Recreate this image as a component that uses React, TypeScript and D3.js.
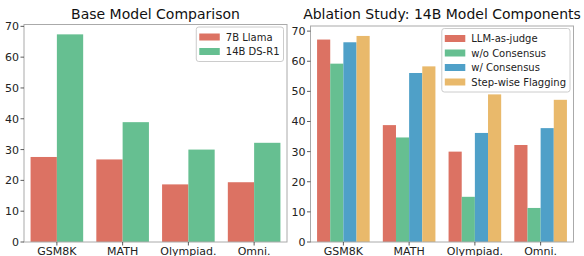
import React, { useEffect, useRef } from "react";
import * as d3 from "d3";

const categories = ["GSM8K", "MATH", "Olympiad.", "Omni."];

const baseSeries = ["7B Llama", "14B DS-R1"];
const baseValues = [
  [27.6, 26.8, 18.7, 19.4],
  [67.4, 38.9, 30.0, 32.2],
];

const ablationSeries = ["LLM-as-judge", "w/o Consensus", "w/ Consensus", "Step-wise Flagging"];
const ablationValues = [
  [67.2, 38.8, 30.0, 32.2],
  [59.2, 34.7, 15.0, 11.3],
  [66.3, 56.1, 36.2, 37.8],
  [68.4, 58.3, 49.0, 47.2],
];

const yTicks = [0, 10, 20, 30, 40, 50, 60, 70];
const colors = ["#dc7263", "#66bf91", "#4fa0c8", "#e9b96b"];

const FONT = "DejaVu Sans";

export default function App() {
  const svgRef = useRef<SVGSVGElement>(null);

  useEffect(() => {
    const svg = d3.select(svgRef.current);
    svg.selectAll("*").remove();

    const panels = [
      { title: "Base Model Comparison", series: baseSeries, values: baseValues, left: 24, right: 287, top: 24.5, ymax: 70.6 },
      { title: "Ablation Study: 14B Model Components", series: ablationSeries, values: ablationValues, left: 310.5, right: 573.5, top: 26, ymax: 71.7 },
    ];
    const bottom = 242;

    panels.forEach((p) => {
      const g = svg.append("g");

      const x = d3.scaleBand().domain(categories).range([p.left, p.right]).paddingInner(0.2).paddingOuter(0.1);
      const xs = d3.scaleBand().domain(p.series).range([0, x.bandwidth()]);
      const y = d3.scaleLinear().domain([0, p.ymax]).range([bottom, p.top]);

      // bars
      p.series.forEach((s, si) => {
        g.selectAll(null)
          .data(p.values[si])
          .enter()
          .append("rect")
          .attr("x", (d, i) => x(categories[i])! + xs(s)!)
          .attr("y", (d) => y(d))
          .attr("width", xs.bandwidth())
          .attr("height", (d) => bottom - y(d))
          .attr("fill", colors[si]);
      });

      // frame
      g.append("rect")
        .attr("x", p.left)
        .attr("y", p.top)
        .attr("width", p.right - p.left)
        .attr("height", bottom - p.top)
        .attr("fill", "none")
        .attr("stroke", "#aaaaaa")
        .attr("stroke-width", 1);

      // y axis
      yTicks.forEach((t) => {
        g.append("line")
          .attr("x1", p.left - 3.5)
          .attr("x2", p.left)
          .attr("y1", y(t))
          .attr("y2", y(t))
          .attr("stroke", "#333")
          .attr("stroke-width", 0.8);
        g.append("text")
          .attr("x", p.left - 5)
          .attr("y", y(t))
          .attr("dy", "0.36em")
          .attr("text-anchor", "end")
          .attr("font-family", FONT)
          .attr("font-size", 11)
          .attr("fill", "#222")
          .text(t);
      });

      // x axis
      categories.forEach((c) => {
        const cx = x(c)! + x.bandwidth() / 2;
        g.append("line")
          .attr("x1", cx)
          .attr("x2", cx)
          .attr("y1", bottom)
          .attr("y2", bottom + 3.5)
          .attr("stroke", "#333")
          .attr("stroke-width", 0.8);
        g.append("text")
          .attr("x", cx)
          .attr("y", 254.5)
          .attr("text-anchor", "middle")
          .attr("font-family", FONT)
          .attr("font-size", 11)
          .attr("fill", "#222")
          .text(c);
      });

      // title
      g.append("text")
        .attr("x", (p.left + p.right) / 2)
        .attr("y", 18.5)
        .attr("text-anchor", "middle")
        .attr("font-family", FONT)
        .attr("font-size", 14)
        .attr("fill", "#111")
        .text(p.title);

      // legend
      const lg = g.append("g");
      const box = lg.append("rect");
      const legTop = p.top + 2.5;
      const rowH = 14.5;
      const labels = p.series.map((s, si) => {
        const cy = legTop + 10 + si * rowH;
        lg.append("rect")
          .attr("data-i", si)
          .attr("class", "patch")
          .attr("y", cy - 3.5)
          .attr("width", 20.5)
          .attr("height", 7)
          .attr("fill", colors[si]);
        return lg.append("text")
          .attr("y", cy)
          .attr("dy", "0.36em")
          .attr("font-family", FONT)
          .attr("font-size", 10)
          .attr("fill", "#222")
          .text(s);
      });
      const maxW = d3.max(labels, (t) => (t.node() as SVGTextElement).getComputedTextLength()) || 0;
      const boxW = 3 + 20.5 + 6 + maxW + 4;
      const boxR = p.right - 3.5;
      const boxL = boxR - boxW;
      lg.selectAll("rect.patch").attr("x", boxL + 3);
      labels.forEach((t) => t.attr("x", boxL + 29.5));
      box
        .attr("x", boxL)
        .attr("y", legTop)
        .attr("width", boxW)
        .attr("height", 20 + (p.series.length - 1) * rowH)
        .attr("rx", 2.5)
        .attr("fill", "white")
        .attr("fill-opacity", 0.8)
        .attr("stroke", "#cccccc")
        .attr("stroke-width", 1);
    });
  }, []);

  return (
    <svg
      ref={svgRef}
      width={584}
      height={256}
      style={{ position: "absolute", left: 0, top: 0, background: "white" }}
    />
  );
}
